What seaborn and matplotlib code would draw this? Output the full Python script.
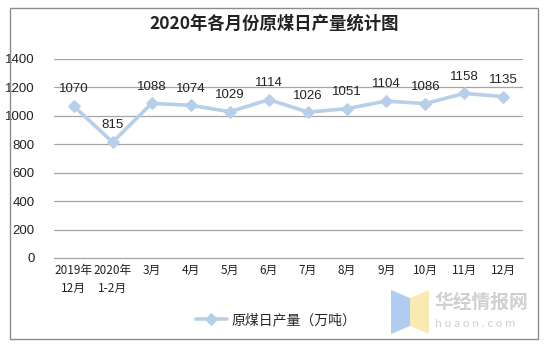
import matplotlib
matplotlib.use("Agg")
import matplotlib.pyplot as plt
import seaborn as sns
import pandas as pd
import numpy as np
from matplotlib.patches import Rectangle, Polygon

months = ["2019年\n12月", "2020年\n1-2月", "3月", "4月", "5月", "6月", "7月", "8月", "9月", "10月", "11月", "12月"]
values = [1070, 815, 1088, 1074, 1029, 1114, 1026, 1051, 1104, 1086, 1158, 1135]
series_name = "原煤日产量（万吨）"
title = "2020年各月份原煤日产量统计图"
yticks = [0, 200, 400, 600, 800, 1000, 1200, 1400]

sns.set_theme(style="white")
plt.rcParams['font.family'] = ['Noto Sans CJK SC', 'DejaVu Sans']

df = pd.DataFrame({"x": np.arange(len(months)), "v": values, "s": series_name})

fig = plt.figure(figsize=(5.48, 3.5), dpi=100)
ax = fig.add_axes([54/548, 1-258/350, (523-54)/548, (258-59)/350])

line_color = "#B7CFE8"
for y in yticks[1:]:
    ax.axhline(y, color="#A6A6A6", lw=0.9, zorder=0)

sns.lineplot(data=df, x="x", y="v", hue="s", palette=[line_color], ax=ax,
             marker="D", markersize=6, linewidth=2.6, markeredgecolor=line_color, zorder=3)

for xi, v in zip(df["x"], values):
    ax.text(xi, v + 75, str(v), ha="center", va="bottom", fontsize=9.5, family=["Liberation Sans", "DejaVu Sans"], color="#222222")

ax.set_xlim(-0.5, len(months) - 0.5)
ax.set_ylim(0, 1400)
ax.set_yticks(yticks)
ax.set_yticklabels([str(y) for y in yticks], fontsize=9.5, family=["Liberation Sans", "DejaVu Sans"], color="#222222")
ax.set_xticks(np.arange(len(months)))
ax.set_xticklabels(months, fontsize=8.5, color="#222222", linespacing=1.5)
ax.set_xticks(np.arange(-0.5, len(months)), minor=True)
ax.tick_params(axis="x", which="major", length=0, pad=4)
ax.tick_params(axis="x", which="minor", length=4, color="#A6A6A6", width=0.9, direction="out")
ax.tick_params(axis="y", length=0, pad=14)
ax.set_xlabel("")
ax.set_ylabel("")
for side in ["top", "right", "left"]:
    ax.spines[side].set_visible(False)
ax.spines["bottom"].set_color("#A6A6A6")
ax.spines["bottom"].set_linewidth(0.9)

leg = ax.legend(loc="center", bbox_to_anchor=(276/548, 1-320/350), bbox_transform=fig.transFigure,
                frameon=False, fontsize=10, handlelength=2.3, markerscale=1.0, handletextpad=0.3)

fig.text(274/548, 1-24/350, title, ha="center", va="center", fontsize=12.5, fontweight="bold", color="#222222")

# figure border
fig.patches.append(Rectangle((10/548, 1-339/350), 528/548, 331/350, transform=fig.transFigure,
                             fill=False, edgecolor="#8C8C8C", lw=1.0))

# watermark
fig.patches.append(Polygon([[391/548, 1-290/350], [410/548, 1-298/350], [410/548, 1-326/350], [391/548, 1-334/350]],
                           closed=True, transform=fig.transFigure, facecolor="#A8C8F0", edgecolor="none", alpha=0.9))
fig.patches.append(Polygon([[410/548, 1-298/350], [429/548, 1-290/350], [429/548, 1-334/350], [410/548, 1-326/350]],
                           closed=True, transform=fig.transFigure, facecolor="#F8E8A8", edgecolor="none", alpha=0.9))
fig.text(434/548, 1-302/350, "华经情报网", fontsize=13.5, fontweight="bold", color="#D0D0D0", va="center", ha="left")
fig.text(435/548, 1-324/350, "h u a o n . c o m", fontsize=8.2, color="#D0D0D0", va="center", ha="left")

fig.savefig("out.png", dpi=100)
